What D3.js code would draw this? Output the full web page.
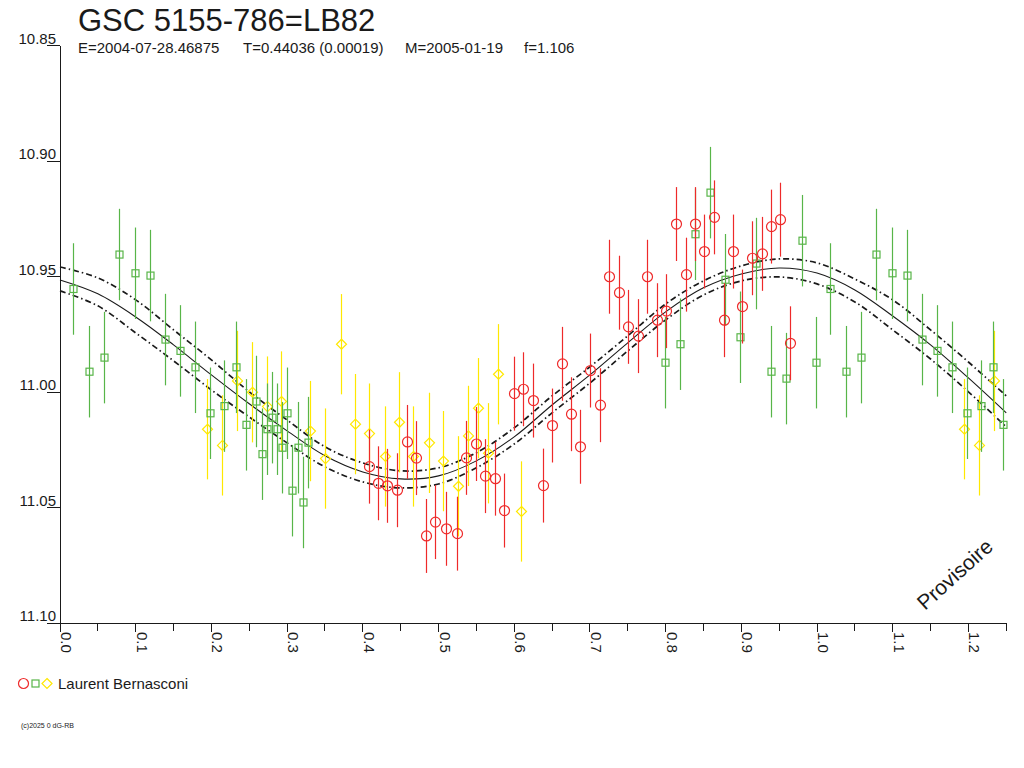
<!DOCTYPE html>
<html>
<head>
<meta charset="utf-8">
<script src="https://cdn.jsdelivr.net/npm/d3@7/dist/d3.min.js"></script>
<style>
html,body{margin:0;padding:0;background:#fff;}
svg{display:block;font-family:"Liberation Sans",Arial,sans-serif;}
</style>
</head>
<body>
<svg id="chart" width="1024" height="768"></svg>
<script>
// ---------------- DATA ----------------
const titleText = "GSC 5155-786=LB82";
const subtitleParts = ["E=2004-07-28.46875", "T=0.44036 (0.00019)", "M=2005-01-19", "f=1.106"];
const observer = "Laurent Bernasconi";
const copyright = "(c)2025 0 dG-RB";
const watermark = "Provisoire";

const xDomain = [0, 1.25];
const yDomain = [10.85, 11.10];
const yTickValues = [10.85, 10.90, 10.95, 11.00, 11.05, 11.10];

// [phase, magnitude, error]
const redPoints = [
  [0.4082,11.0322,0.016],[0.4205,11.0394,0.016],[0.4324,11.0405,0.016],[0.4448,11.0424,0.016],
  [0.4580,11.0215,0.016],[0.4703,11.0285,0.016],[0.4831,11.0622,0.016],[0.4950,11.0562,0.016],
  [0.5103,11.0591,0.016],[0.5244,11.0612,0.016],[0.5367,11.0284,0.016],[0.5491,11.0224,0.016],
  [0.5618,11.0363,0.016],[0.5742,11.0374,0.016],[0.5865,11.0512,0.016],[0.5993,11.0006,0.016],
  [0.6120,10.9987,0.016],[0.6252,11.0036,0.016],[0.6374,11.0404,0.016],[0.6495,11.0144,0.016],
  [0.6628,10.9877,0.016],[0.6750,11.0095,0.016],[0.6873,11.0236,0.016],[0.7001,10.9906,0.016],
  [0.7133,11.0056,0.016],[0.7256,10.9500,0.016],[0.7381,10.9569,0.016],[0.7503,10.9717,0.016],
  [0.7636,10.9757,0.016],[0.7758,10.9500,0.016],[0.7883,10.9688,0.016],[0.8005,10.9649,0.016],
  [0.8141,10.9272,0.016],[0.8266,10.9491,0.016],[0.8384,10.9272,0.016],[0.8507,10.9391,0.016],
  [0.8643,10.9243,0.016],[0.8767,10.9688,0.016],[0.8886,10.9391,0.016],[0.9009,10.9629,0.016],
  [0.9145,10.9420,0.016],[0.9269,10.9401,0.016],[0.9388,10.9283,0.016],[0.9511,10.9253,0.016],
  [0.9647,10.9788,0.016]
];
const greenPoints = [
  [0.0176,10.9553,0.0198],[0.0387,10.9911,0.0198],[0.0585,10.9850,0.0198],[0.0783,10.9404,0.0198],
  [0.0991,10.9485,0.0198],[0.1189,10.9495,0.0198],[0.1383,10.9772,0.0198],[0.1589,10.9821,0.0198],
  [0.1787,10.9892,0.0198],[0.1985,11.0091,0.0198],[0.2160,11.0060,0.0198],[0.2325,10.9892,0.0198],
  [0.2457,11.0141,0.0198],[0.2593,11.0040,0.0198],[0.2668,11.0268,0.0198],[0.2734,11.0160,0.0198],
  [0.2801,11.0110,0.0198],[0.2863,11.0160,0.0198],[0.2933,11.0240,0.0198],[0.2999,11.0091,0.0198],
  [0.3065,11.0426,0.0198],[0.3140,11.0240,0.0198],[0.3210,11.0477,0.0198],[0.3272,11.0218,0.0198],
  [0.7992,10.9872,0.0198],[0.8186,10.9792,0.0198],[0.8384,10.9316,0.0198],[0.8591,10.9136,0.0198],
  [0.8789,10.9513,0.0198],[0.8987,10.9762,0.0198],[0.9198,10.9443,0.0198],[0.9392,10.9911,0.0198],
  [0.9590,10.9941,0.0198],[0.9798,10.9344,0.0198],[0.9990,10.9872,0.0198]
];
const yellowPoints = [
  [0.1946,11.0160,0.0217],[0.2144,11.0230,0.0217],[0.2334,10.9951,0.0217],[0.2532,11.0000,0.0217],
  [0.2728,11.0062,0.0217],[0.2919,11.0040,0.0217],[0.3309,11.0168,0.0217],[0.3503,11.0287,0.0217],
  [0.3708,10.9792,0.0217],[0.3897,11.0138,0.0217],[0.4086,11.0179,0.0217],[0.4293,11.0278,0.0217],
  [0.4482,11.0130,0.0217],[0.4667,11.0278,0.0217],[0.4875,11.0219,0.0217],[0.5063,11.0298,0.0217],
  [0.5262,11.0407,0.0217],[0.5394,11.0189,0.0217],[0.5526,11.0069,0.0217],[0.5658,11.0264,0.0217],
  [0.5790,10.9922,0.0217],[0.6090,11.0516,0.0217]
];

// fitted light curve and its envelope, read at phase steps of 0.05
const curvePhases = [0,0.05,0.10,0.15,0.20,0.25,0.30,0.35,0.40,0.45,0.50,0.55,0.60,0.65,0.70,0.75,0.80,0.85,0.90,0.95,1.00,1.05,1.10,1.15,1.20,1.25];
const curveMid = [10.9514,10.9574,10.9674,10.9795,10.9925,11.0050,11.0167,11.0275,11.0345,11.0375,11.0362,11.0297,11.0193,11.0055,10.9925,10.9786,10.9652,10.9548,10.9488,10.9462,10.9484,10.9557,10.9670,10.9795,10.9938,11.0089];
const curveUpper = [10.9458,10.9505,10.9600,10.9730,10.9860,10.9998,11.0120,11.0236,11.0306,11.0340,11.0327,11.0262,11.0154,11.0016,10.9890,10.9756,10.9618,10.9518,10.9453,10.9423,10.9440,10.9510,10.9600,10.9730,10.9869,11.0016];
const curveLower = [10.9561,10.9626,10.9743,10.9864,10.9990,11.0107,11.0219,11.0323,11.0388,11.0414,11.0397,11.0327,11.0224,11.0089,10.9960,10.9821,10.9687,10.9579,10.9518,10.9501,10.9531,10.9609,10.9730,10.9856,10.9998,11.0150];

// ---------------- DRAW ----------------
const svg = d3.select("#chart");
const x = d3.scaleLinear().domain(xDomain).range([60, 1006.25]);
const y = d3.scaleLinear().domain(yDomain).range([45.7, 623.3]);

const RED = "#ee2a2a", GREEN = "#58b548", YELLOW = "#ffe800", INK = "#1a1a1a";

// title
svg.append("text").attr("x", 78).attr("y", 31).attr("font-size", 31).attr("fill", INK).text(titleText);
const subX = [78, 243, 405, 524];
subtitleParts.forEach((t, i) => {
  svg.append("text").attr("x", subX[i]).attr("y", 53).attr("font-size", 15).attr("fill", INK).text(t);
});

// axes
const axisG = svg.append("g").attr("shape-rendering", "crispEdges").attr("stroke", INK);
axisG.append("line").attr("x1", x(0)).attr("x2", x(0)).attr("y1", y(yDomain[0])).attr("y2", y(yDomain[1]));
axisG.append("line").attr("x1", x(0)).attr("x2", x(xDomain[1])).attr("y1", y(yDomain[1])).attr("y2", y(yDomain[1]));

yTickValues.forEach(v => {
  axisG.append("line").attr("x1", 47).attr("x2", x(0)).attr("y1", y(v)).attr("y2", y(v));
  svg.append("text").attr("x", 56).attr("y", y(v) - 2).attr("text-anchor", "end")
    .attr("font-size", 15).attr("fill", INK).text(d3.format(".2f")(v));
});

const xTicks = d3.range(0, 26).map(i => i * 0.05);
xTicks.forEach((v, i) => {
  const major = i % 2 === 0;
  axisG.append("line").attr("x1", x(v)).attr("x2", x(v)).attr("y1", y(yDomain[1])).attr("y2", y(yDomain[1]) + (major ? 9 : 8));
  if (major) {
    const px = x(v) + 1, py = 632;
    svg.append("text").attr("transform", `translate(${px},${py}) rotate(90)`)
      .attr("font-size", 15).attr("fill", INK).text(d3.format(".1f")(v));
  }
});

// curves
const line = d3.line().x(d => x(d[0])).y(d => y(d[1])).curve(d3.curveCatmullRom);
const zipc = arr => curvePhases.map((p, i) => [p, arr[i]]);
svg.append("path").datum(zipc(curveUpper)).attr("d", line).attr("fill", "none")
  .attr("stroke", INK).attr("stroke-width", 1.7).attr("stroke-dasharray", "6,3,1.5,3");
svg.append("path").datum(zipc(curveLower)).attr("d", line).attr("fill", "none")
  .attr("stroke", INK).attr("stroke-width", 1.7).attr("stroke-dasharray", "6,3,1.5,3");
svg.append("path").datum(zipc(curveMid)).attr("d", line).attr("fill", "none")
  .attr("stroke", INK).attr("stroke-width", 1.1);

// points (phases repeated beyond 1.0 up to the axis end)
function expand(pts) {
  const out = [];
  pts.forEach(p => {
    out.push(p);
    if (p[0] + 1 <= xDomain[1]) out.push([p[0] + 1, p[1], p[2]]);
  });
  return out;
}

function drawSeries(pts, color, shape) {
  const g = svg.append("g");
  const data = expand(pts);
  g.selectAll("line.err").data(data).enter().append("line")
    .attr("x1", d => Math.round(x(d[0])) + 0.5).attr("x2", d => Math.round(x(d[0])) + 0.5)
    .attr("y1", d => y(d[1] - d[2])).attr("y2", d => y(d[1] + d[2]))
    .attr("stroke", color).attr("stroke-width", 1.2);
  const m = g.selectAll("g.m").data(data).enter().append("g")
    .attr("transform", d => `translate(${Math.round(x(d[0])) + 0.5},${y(d[1])})`);
  if (shape === "circle") {
    m.append("circle").attr("r", 5).attr("fill", "none").attr("stroke", color).attr("stroke-width", 1.2);
  } else if (shape === "square") {
    m.append("rect").attr("x", -3.5).attr("y", -3.5).attr("width", 7).attr("height", 7)
      .attr("fill", "none").attr("stroke", color).attr("stroke-width", 1.2);
  } else {
    m.append("path").attr("d", "M0,-5L5,0L0,5L-5,0Z").attr("fill", "none").attr("stroke", color).attr("stroke-width", 1.2);
  }
}
drawSeries(yellowPoints, YELLOW, "diamond");
drawSeries(greenPoints, GREEN, "square");
drawSeries(redPoints, RED, "circle");

// watermark
svg.append("text").attr("transform", "translate(925,611) rotate(-42)")
  .attr("font-size", 21).attr("fill", INK).text(watermark);

// legend
svg.append("circle").attr("cx", 23.5).attr("cy", 683.5).attr("r", 5).attr("fill", "none").attr("stroke", RED).attr("stroke-width", 1.2);
svg.append("rect").attr("x", 32).attr("y", 680).attr("width", 7).attr("height", 7).attr("fill", "none").attr("stroke", GREEN).attr("stroke-width", 1.2);
svg.append("path").attr("d", "M47,678.5L52,683.5L47,688.5L42,683.5Z").attr("fill", "none").attr("stroke", YELLOW).attr("stroke-width", 1.2);
svg.append("text").attr("x", 58).attr("y", 689).attr("font-size", 15).attr("fill", INK).text(observer);

svg.append("text").attr("x", 21).attr("y", 728).attr("font-size", 7).attr("fill", INK).text(copyright);
</script>
</body>
</html>
